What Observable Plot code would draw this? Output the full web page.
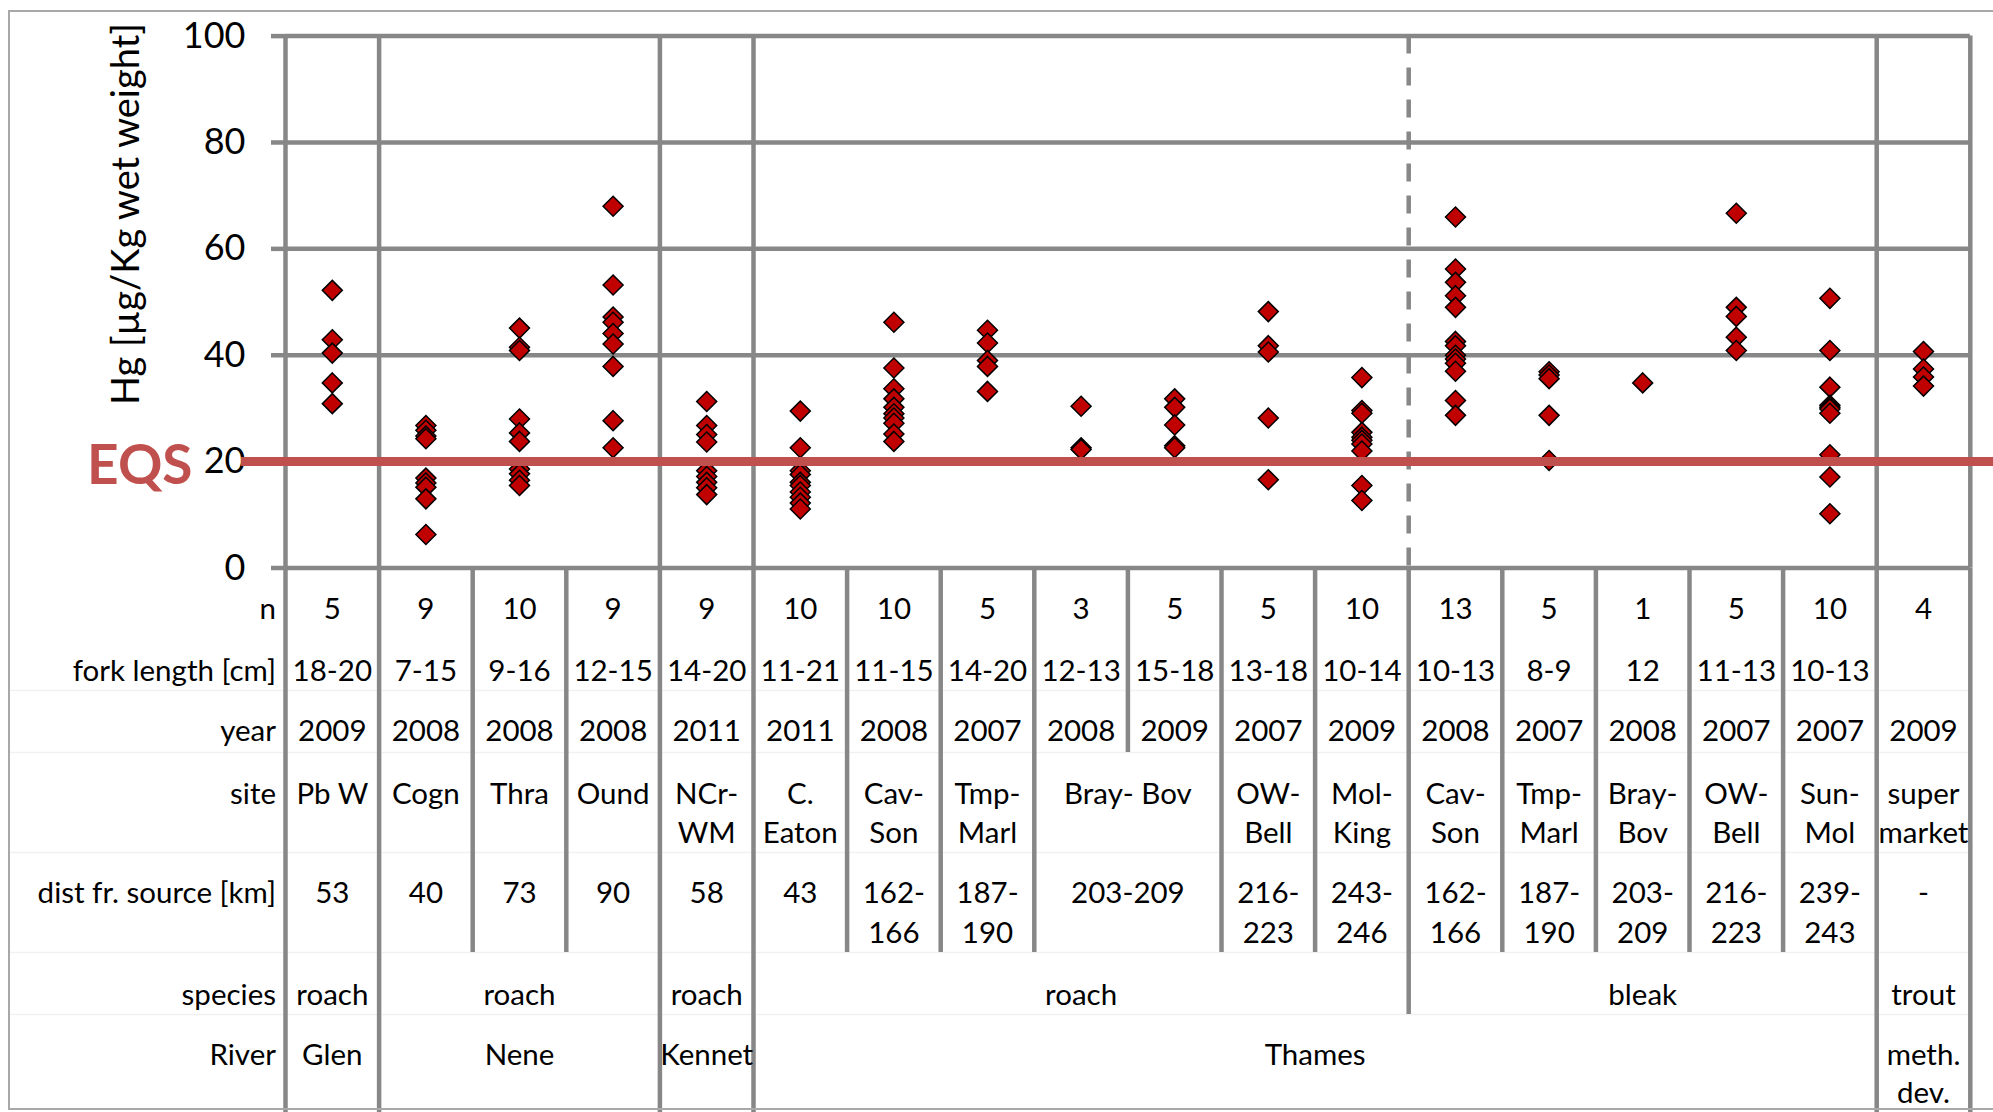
<!DOCTYPE html>
<html><head><meta charset="utf-8">
<script src="https://cdn.jsdelivr.net/npm/d3@7"></script>
<script src="https://cdn.jsdelivr.net/npm/@observablehq/plot@0.6"></script>
<style>
html,body{margin:0;padding:0;background:#fff;overflow:hidden;}
#wrap{position:relative;width:1993px;height:1112px;overflow:hidden;}
#border{position:absolute;left:8px;top:10px;width:2100px;height:1100px;border:2.5px solid #a8a8a8;box-sizing:border-box;pointer-events:none;}
</style></head>
<body><div id="wrap"><div id="chart"></div><div id="border"></div></div>
<script>
// ---------- data ----------
const yTicks = [0, 20, 40, 60, 80, 100];
const eqs = 20;
const yTitle = "Hg [µg/Kg wet weight]";
const rowLabels = ["n", "fork length [cm]", "year", "site", "dist fr. source [km]", "species", "River"];

const hgValues = [
  [52.2, 42.9, 40.4, 34.8, 30.9],
  [26.8, 25.9, 24.8, 24.3, 16.9, 16.0, 15.2, 13.0, 6.3],
  [45.1, 41.5, 40.9, 28.0, 25.4, 23.8, 18.6, 17.7, 16.5, 15.5],
  [68.0, 53.2, 47.2, 46.2, 44.1, 42.1, 37.9, 27.7, 22.6],
  [31.3, 26.8, 25.1, 23.7, 18.3, 17.2, 16.1, 15.1, 13.8],
  [29.5, 22.6, 18.3, 17.6, 16.1, 15.5, 14.3, 13.3, 12.2, 11.1],
  [46.2, 37.6, 33.7, 31.8, 30.2, 29.0, 28.2, 27.2, 25.2, 23.8],
  [44.7, 42.3, 39.0, 37.9, 33.2],
  [30.4, 22.6, 22.3],
  [31.8, 30.2, 26.9, 23.0, 22.6],
  [48.2, 41.8, 40.6, 28.2, 16.6],
  [35.8, 29.6, 29.1, 25.5, 24.6, 24.0, 23.3, 22.0, 15.5, 12.7],
  [66.0, 56.2, 53.7, 51.2, 49.0, 42.6, 41.8, 40.0, 39.3, 38.5, 37.0, 31.5, 28.7],
  [36.9, 36.3, 35.6, 28.7, 20.2],
  [34.8],
  [66.7, 49.0, 47.3, 43.4, 40.9],
  [50.7, 40.9, 34.0, 30.6, 30.2, 29.9, 29.1, 21.3, 17.1, 10.2],
  [40.7, 37.4, 35.9, 34.2]
];

const nFish = [5, 9, 10, 9, 9, 10, 10, 5, 3, 5, 5, 10, 13, 5, 1, 5, 10, 4];
const forkLength = ["18-20", "7-15", "9-16", "12-15", "14-20", "11-21", "11-15", "14-20", "12-13", "15-18",
                    "13-18", "10-14", "10-13", "8-9", "12", "11-13", "10-13", ""];
const years = [2009, 2008, 2008, 2008, 2011, 2011, 2008, 2007, 2008, 2009, 2007, 2009, 2008, 2007, 2008, 2007, 2007, 2009];
// [label, number of columns spanned]
const siteCells = [["Pb W", 1], ["Cogn", 1], ["Thra", 1], ["Ound", 1], ["NCr-\nWM", 1], ["C.\nEaton", 1],
                   ["Cav-\nSon", 1], ["Tmp-\nMarl", 1], ["Bray- Bov", 2], ["OW-\nBell", 1], ["Mol-\nKing", 1],
                   ["Cav-\nSon", 1], ["Tmp-\nMarl", 1], ["Bray-\nBov", 1], ["OW-\nBell", 1], ["Sun-\nMol", 1], ["super\nmarket", 1]];
const distCells = [["53", 1], ["40", 1], ["73", 1], ["90", 1], ["58", 1], ["43", 1], ["162-\n166", 1], ["187-\n190", 1],
                   ["203-209", 2], ["216-\n223", 1], ["243-\n246", 1], ["162-\n166", 1], ["187-\n190", 1],
                   ["203-\n209", 1], ["216-\n223", 1], ["239-\n243", 1], ["-", 1]];
const speciesCells = [["roach", 1], ["roach", 3], ["roach", 1], ["roach", 7], ["bleak", 5], ["trout", 1]];
const riverCells = [["Glen", 1], ["Nene", 3], ["Kennet", 1], ["Thames", 12], ["meth.\ndev.", 1]];

// ---------- layout ----------
const W = 1993, H = 1112;
const L = 285, R = 1969.8, T = 35.6, B = 567.5;
const nCols = hgValues.length;
const px2y = p => (B - p) / (B - T) * 100;
const px2x = p => (p - L) / (R - L) * nCols;
const gridColor = "#878787";
const lw = 4.5;

// row layout in pixels: first line centre, second line centre, bottom edge
const rowLayout = [
  {p1: 609, bottom: 640},
  {p1: 671, bottom: 690},
  {p1: 731, bottom: 752},
  {p1: 794, p2: 833, bottom: 852},
  {p1: 893, p2: 933, bottom: 952},
  {p1: 995, bottom: 1014},
  {p1: 1055, p2: 1093, bottom: 1112}
];

function cellsFrom(list) {
  let s = 0;
  return list.map(([label, span]) => { const c = {label, x0: s, x1: s + span}; s += span; return c; });
}
const single = arr => arr.map((v, i) => ({label: String(v), x0: i, x1: i + 1}));
const tableRows = [
  single(nFish), single(forkLength), single(years),
  cellsFrom(siteCells), cellsFrom(distCells), cellsFrom(speciesCells), cellsFrom(riverCells)
];

// text items
const cellTexts = [];
tableRows.forEach((cells, r) => {
  const lay = rowLayout[r];
  cells.forEach(c => {
    const lines = c.label.split("\n");
    lines.forEach((line, j) => {
      if (line) cellTexts.push({x: (c.x0 + c.x1) / 2, y: px2y(j === 0 ? lay.p1 : lay.p2), label: line});
    });
  });
});
const labelTexts = rowLabels.map((l, r) => ({label: l, y: px2y(rowLayout[r].p1)}));

// vertical table dividers: go down as long as each row has a boundary at k
const boundarySets = tableRows.map(cells => new Set(cells.flatMap(c => [c.x0, c.x1])));
const tableDividers = d3.range(0, nCols + 1).map(k => {
  let depth = B;
  for (let r = 0; r < tableRows.length; r++) {
    if (boundarySets[r].has(k)) depth = rowLayout[r].bottom; else break;
  }
  return {k, depth};
});
const riverBounds = [...boundarySets[6]];
const speciesOnly = [...boundarySets[5]].filter(k => !boundarySets[6].has(k));
const faintRows = [1, 2, 3, 4, 5].map(r => rowLayout[r].bottom);

const points = hgValues.flatMap((vals, i) => vals.map(v => ({col: i, hg: v})));

const chart = Plot.plot({
  width: W, height: H,
  marginLeft: L, marginRight: W - R, marginTop: T, marginBottom: H - B,
  x: {domain: [0, nCols], axis: null},
  y: {domain: [0, 100], axis: null},
  style: {fontFamily: "Lato, 'Open Sans', sans-serif", fontSize: "29.5px", color: "black", background: "transparent", overflow: "visible"},
  marks: [
    Plot.ruleY(faintRows, {y: d => px2y(d), x1: px2x(9), x2: nCols, stroke: "#f1f1f1", strokeWidth: 1.5}),
    Plot.ruleY(yTicks, {stroke: gridColor, strokeWidth: lw}),
    Plot.axisY({ticks: yTicks, tickSize: 14, tickPadding: 26, stroke: gridColor, strokeWidth: lw, fontSize: 36, label: null}),
    Plot.ruleX(riverBounds, {x: d => d, y1: 100, y2: 0, stroke: gridColor, strokeWidth: lw}),
    Plot.ruleX(speciesOnly, {x: d => d, y1: 100, y2: 0, stroke: gridColor, strokeWidth: lw, strokeDasharray: "18,14"}),
    Plot.ruleX(tableDividers, {x: "k", y1: 0, y2: d => px2y(d.depth), stroke: gridColor, strokeWidth: lw}),
    Plot.dot(points, {x: d => d.col + 0.5, y: "hg", symbol: "diamond2", r: 9, fill: "#C00000", stroke: "black", strokeWidth: 1.5}),
    Plot.ruleY([eqs], {x1: px2x(241), x2: px2x(W), stroke: "#C0504D", strokeWidth: 9}),
    Plot.text(["EQS"], {frameAnchor: "left", y: eqs, text: d => d, dx: -93, dy: 5, textAnchor: "end", fontWeight: "bold", fontSize: 55, fill: "#C0504D"}),
    Plot.text([yTitle], {frameAnchor: "left", y: px2y(213.5), text: d => d, dx: -159, rotate: -90, fontSize: 38, textAnchor: "middle"}),
    Plot.text(labelTexts, {frameAnchor: "left", y: "y", text: "label", dx: -9.5, textAnchor: "end"}),
    Plot.text(cellTexts, {x: "x", y: "y", text: "label"})
  ]
});
document.getElementById("chart").appendChild(chart);
</script>
</body></html>
